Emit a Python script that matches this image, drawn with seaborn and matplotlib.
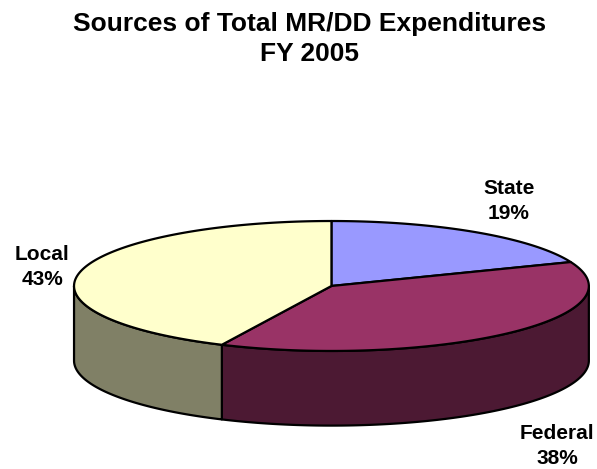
import numpy as np
import matplotlib.pyplot as plt
import seaborn as sns
from matplotlib.patches import Polygon

# Data
labels = ["State", "Federal", "Local"]
shares = [19, 38, 43]
top_colors = ["#9999FF", "#993366", "#FFFFCC"]
side_colors = ["#4D4D80", "#4C1933", "#808066"]

sns.set_theme(style="white")
plt.rcParams["font.family"] = ["Liberation Sans", "DejaVu Sans"]
plt.rcParams["text.color"] = "black"

fig = plt.figure(figsize=(5.97, 4.69), dpi=100)
ax = fig.add_axes([0, 0, 1, 1])
ax.set_xlim(-1.287, 1.031)
ax.set_ylim(-0.711, 1.111)
ax.set_aspect("equal")
ax.axis("off")

squash = 0.2524   # ellipse height / width of the top face
depth = 0.29      # thickness of the disc


def arc(t1, t2, n=300):
    t = np.radians(np.linspace(t1, t2, n))
    return np.cos(t), squash * np.sin(t)


# slices run clockwise from 12 o'clock
ends = 90 - np.cumsum(shares) / sum(shares) * 360
starts = np.r_[90, ends[:-1]]

# front side walls (only the part facing the viewer)
for s, e, c in zip(starts, ends, side_colors):
    lo, hi = max(e, -180), min(s, 0)
    if lo >= hi:
        continue
    x, y = arc(lo, hi)
    pts = np.r_[np.c_[x, y], np.c_[x[::-1], y[::-1] - depth]]
    ax.add_patch(Polygon(pts, closed=True, facecolor=c, edgecolor="black",
                         lw=1.6, joinstyle="round", zorder=1))

# top faces
for s, e, c in zip(starts, ends, top_colors):
    x, y = arc(s, e)
    pts = np.r_[[[0, 0]], np.c_[x, y]]
    ax.add_patch(Polygon(pts, closed=True, facecolor=c, edgecolor="black",
                         lw=1.6, joinstyle="round", zorder=2))

# slice labels
label_pos = {"State": (509, 201), "Federal": (557, 446), "Local": (42, 267)}
for lab, sh in zip(labels, shares):
    px, py = label_pos[lab]
    fig.text(px / 597, 1 - py / 469, f"{lab}\n{sh}%", ha="center", va="center",
             fontsize=15, fontweight="bold", linespacing=1.35)

fig.text(310 / 597, 1 - 39 / 469, "Sources of Total MR/DD Expenditures\nFY 2005",
         ha="center", va="center", fontsize=19, fontweight="bold", linespacing=1.35)

fig.savefig("out.png", dpi=100, facecolor="white")
